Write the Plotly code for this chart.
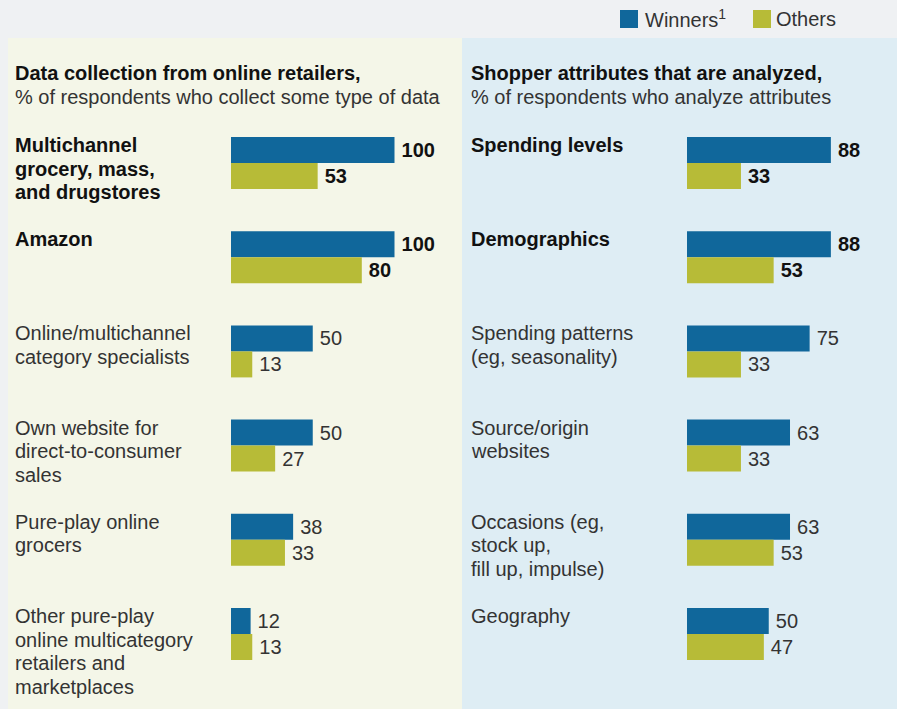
import plotly.graph_objects as go

W, H = 897, 709

left_categories = [
    "Multichannel<br>grocery, mass,<br>and drugstores",
    "Amazon",
    "Online/multichannel<br>category specialists",
    "Own website for<br>direct-to-consumer<br>sales",
    "Pure-play online<br>grocers",
    "Other pure-play<br>online multicategory<br>retailers and<br>marketplaces",
]
left_winners = [100, 100, 50, 50, 38, 12]
left_others = [53, 80, 13, 27, 33, 13]
left_bold = [True, True, False, False, False, False]

right_categories = [
    "Spending levels",
    "Demographics",
    "Spending patterns<br>(eg, seasonality)",
    "Source/origin<br>websites",
    "Occasions (eg,<br>stock up,<br>fill up, impulse)",
    "Geography",
]
right_winners = [88, 88, 75, 63, 63, 50]
right_others = [33, 53, 33, 33, 53, 47]
right_bold = [True, True, False, False, False, False]

series_names = ["Winners", "Others"]
left_title = ["<b>Data collection from online retailers,</b>", "% of respondents who collect some type of data"]
right_title = ["<b>Shopper attributes that are analyzed,</b>", "% of respondents who analyze attributes"]

C_WIN = "#10679b"
C_OTH = "#b7bb37"
BG_PAGE = "#eff1f3"
BG_LEFT = "#f4f6e8"
BG_RIGHT = "#deedf4"
TXT = "#333333"
TXT_B = "#111111"
FONT = "Liberation Sans, Arial, Helvetica, sans-serif"
FS = 20
LINE = 23.5

PX_PER_PCT = 1.635
ROW_TOP_CENTER = 163
ROW_BOTTOM_CENTER = 634
pitch = (ROW_BOTTOM_CENTER - ROW_TOP_CENTER) / 5
y_top_px = ROW_TOP_CENTER - pitch / 2
y_bot_px = ROW_BOTTOM_CENTER + pitch / 2
ydom = [1 - y_bot_px / H, 1 - y_top_px / H]

def fmt(vals, bold):
    return ["\u2009" + (f"<b>{v}</b>" if b else str(v)) for v, b in zip(vals, bold)]

def colors(bold):
    return [TXT_B if b else TXT for b in bold]

keys_l = [f"L{i}" for i in range(len(left_categories))]
keys_r = [f"R{i}" for i in range(len(right_categories))]

fig = go.Figure()
for vals, name, col in [(left_winners, series_names[0], C_WIN), (left_others, series_names[1], C_OTH)]:
    fig.add_trace(go.Bar(
        x=vals, y=keys_l, orientation="h", name=name, marker_color=col,
        marker_line_width=0, text=fmt(vals, left_bold), textposition="outside",
        textfont=dict(size=FS, color=colors(left_bold), family=FONT), cliponaxis=False,
        constraintext="none", xaxis="x", yaxis="y", showlegend=False))
for vals, name, col in [(right_winners, series_names[0], C_WIN), (right_others, series_names[1], C_OTH)]:
    fig.add_trace(go.Bar(
        x=vals, y=keys_r, orientation="h", name=name, marker_color=col,
        marker_line_width=0, text=fmt(vals, right_bold), textposition="outside",
        textfont=dict(size=FS, color=colors(right_bold), family=FONT), cliponaxis=False,
        constraintext="none", xaxis="x2", yaxis="y2", showlegend=False))

lx0, lx1 = 231, 460
rx0, rx1 = 687, 897
axis_common = dict(showgrid=False, zeroline=False, showticklabels=False, showline=False, ticks="")
fig.update_layout(
    xaxis=dict(domain=[lx0 / W, lx1 / W], range=[0, (lx1 - lx0) / PX_PER_PCT], **axis_common),
    xaxis2=dict(domain=[rx0 / W, rx1 / W], range=[0, (rx1 - rx0) / PX_PER_PCT], **axis_common),
    yaxis=dict(domain=ydom, range=[len(keys_l) - 0.5, -0.5], type="category", **axis_common),
    yaxis2=dict(domain=ydom, range=[len(keys_r) - 0.5, -0.5], type="category", anchor="x2", **axis_common),
    barmode="group", bargap=1 - 52 / pitch, bargroupgap=0,
    width=W, height=H, margin=dict(l=0, r=0, t=0, b=0),
    paper_bgcolor=BG_PAGE, plot_bgcolor="rgba(0,0,0,0)",
    font=dict(family=FONT, color=TXT, size=FS),
)
fig.update_traces(textangle=0)

shapes = [
    dict(type="rect", xref="paper", yref="paper", x0=8 / W, x1=462 / W, y0=0, y1=1 - 38 / H,
         fillcolor=BG_LEFT, line_width=0, layer="below"),
    dict(type="rect", xref="paper", yref="paper", x0=462 / W, x1=1, y0=0, y1=1 - 38 / H,
         fillcolor=BG_RIGHT, line_width=0, layer="below"),
    dict(type="rect", xref="paper", yref="paper", x0=620 / W, x1=638 / W, y0=1 - 28 / H, y1=1 - 10 / H,
         fillcolor=C_WIN, line_width=0),
    dict(type="rect", xref="paper", yref="paper", x0=753 / W, x1=771 / W, y0=1 - 28 / H, y1=1 - 10 / H,
         fillcolor=C_OTH, line_width=0),
]
fig.update_layout(shapes=shapes)

ann = []
ann.append(dict(text="Winners<sup>1</sup>", xref="paper", yref="paper", x=643 / W, y=1 - 19 / H,
                xanchor="left", yanchor="middle", showarrow=False, font=dict(size=FS, color=TXT)))
ann.append(dict(text="Others", xref="paper", yref="paper", x=774 / W, y=1 - 19 / H,
                xanchor="left", yanchor="middle", showarrow=False, font=dict(size=FS, color=TXT)))

def add_lines(lines, x_px, yref, ykey, first_shift, bold):
    color = TXT_B if bold else TXT
    for i, ln in enumerate(lines):
        txt = f"<b>{ln}</b>" if bold else ln
        d = dict(text=txt, xref="paper", x=x_px / W, xanchor="left", yanchor="middle",
                 align="left", showarrow=False, font=dict(size=FS, color=color))
        if yref == "paper":
            d.update(yref="paper", y=1 - (first_shift + i * LINE) / H)
        else:
            d.update(yref=yref, y=ykey, yshift=first_shift - i * LINE)
        ann.append(d)

for title, x_px in [(left_title, 13), (right_title, 469)]:
    for i, ln in enumerate(title):
        ann.append(dict(text=ln, xref="paper", yref="paper", x=x_px / W, y=1 - (73 + i * 24) / H,
                        xanchor="left", yanchor="middle", align="left", showarrow=False,
                        font=dict(size=FS, color=TXT_B if i == 0 else TXT)))

for k, lab, b in zip(keys_l, left_categories, left_bold):
    add_lines(lab.split("<br>"), 13, "y", k, 18, b)
for k, lab, b in zip(keys_r, right_categories, right_bold):
    add_lines(lab.split("<br>"), 469, "y2", k, 18, b)
fig.update_layout(annotations=ann)

fig.write_html("out.html")
